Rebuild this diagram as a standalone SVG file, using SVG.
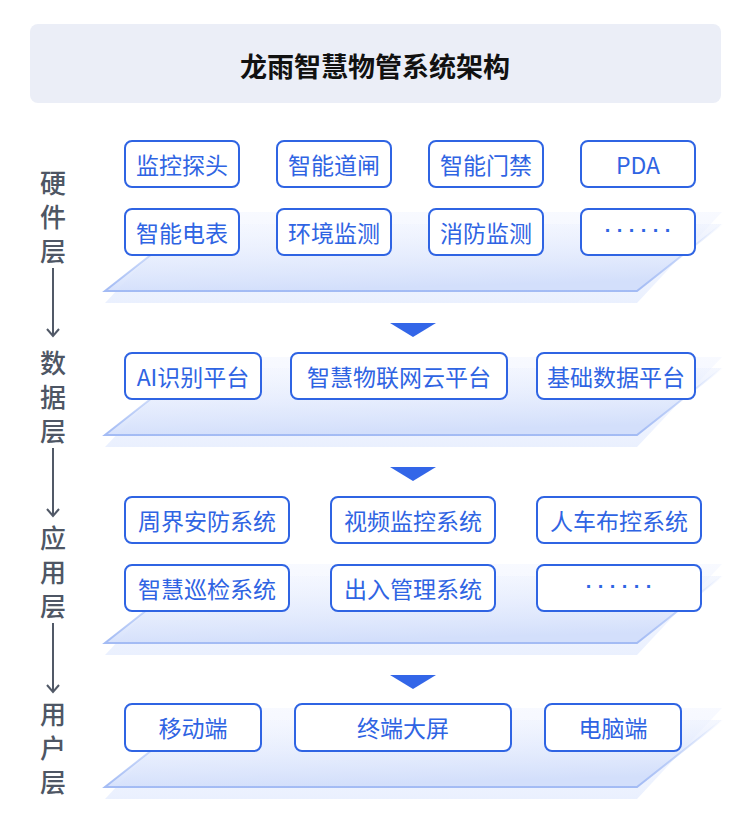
<svg xmlns="http://www.w3.org/2000/svg" width="750" height="826" viewBox="0 0 750 826">
<defs>
<linearGradient id="gFront" x1="0" y1="0" x2="0.25" y2="1">
<stop offset="0" stop-color="#F4F7FF" stop-opacity="0.4"/>
<stop offset="1" stop-color="#D3DFFB"/>
</linearGradient>
<linearGradient id="gBack" x1="0" y1="0" x2="0" y2="1">
<stop offset="0" stop-color="#F3F6FF" stop-opacity="0.6"/>
<stop offset="1" stop-color="#EAF0FE"/>
</linearGradient>
<linearGradient id="gStroke" x1="0" y1="0" x2="0" y2="1">
<stop offset="0" stop-color="#A6BEF5" stop-opacity="0"/>
<stop offset="0.55" stop-color="#A6BEF5" stop-opacity="0.6"/>
<stop offset="1" stop-color="#A3BBF4"/>
</linearGradient>
<marker id="arrowOpen" viewBox="0 0 12 14" refX="10" refY="7" markerWidth="12" markerHeight="14" markerUnits="userSpaceOnUse" orient="auto">
<path d="M3,1 L10,7 L3,13" fill="none" stroke="#515967" stroke-width="2"/>
</marker>
</defs>
<style>
.back{fill:url(#gBack);}
.front{fill:url(#gFront);stroke:url(#gStroke);stroke-width:2;}
.node rect{fill:#FFFFFF;stroke:#2F64E3;stroke-width:2;}
.node text{font-family:"Noto Sans CJK SC","Noto Sans",sans-serif;font-size:23px;fill:#2F64E3;text-anchor:middle;dominant-baseline:central;}
.node text.dots{font-family:"Liberation Sans",sans-serif;font-size:20px;font-weight:bold;}
.lab{font-family:"Noto Sans CJK SC",sans-serif;font-size:26px;font-weight:500;fill:#4E5664;text-anchor:middle;dominant-baseline:central;}
.tri{fill:#3366E8;}
.vline{stroke:#515967;stroke-width:2;fill:none;}
</style>
<rect width="750" height="826" fill="#FFFFFF"/>

<g id="title">
<rect x="30" y="24" width="691" height="79" rx="8" fill="#EBEEF7"/>
<text x="375" y="65" font-family="Noto Sans CJK SC,sans-serif" font-size="27" font-weight="bold" fill="#111111" text-anchor="middle" dominant-baseline="central">龙雨智慧物管系统架构</text>
</g>

<g id="plates">
<polygon class="back" points="190,212 722,212 637,303 105,303"/>
<polygon class="front" points="190,224 722,224 637,291 105,291"/>
<polygon class="back" points="190,357 722,357 637,447 105,447"/>
<polygon class="front" points="190,368 722,368 637,435 105,435"/>
<polygon class="back" points="190,564 722,564 637,655 105,655"/>
<polygon class="front" points="190,576 722,576 637,643 105,643"/>
<polygon class="back" points="190,708 722,708 637,799 105,799"/>
<polygon class="front" points="190,720 722,720 637,787 105,787"/>
</g>

<g id="layer-labels">
<text class="lab" x="53" y="181">硬<tspan x="53" dy="34">件</tspan><tspan x="53" dy="34">层</tspan></text>
<text class="lab" x="53" y="361">数<tspan x="53" dy="34">据</tspan><tspan x="53" dy="34">层</tspan></text>
<text class="lab" x="53" y="536">应<tspan x="53" dy="34">用</tspan><tspan x="53" dy="34">层</tspan></text>
<text class="lab" x="53" y="712">用<tspan x="53" dy="34">户</tspan><tspan x="53" dy="34">层</tspan></text>
</g>

<g id="connectors">
<line class="vline" x1="53" y1="268" x2="53" y2="336" marker-end="url(#arrowOpen)"/>
<line class="vline" x1="53" y1="448" x2="53" y2="516" marker-end="url(#arrowOpen)"/>
<line class="vline" x1="53" y1="623" x2="53" y2="692" marker-end="url(#arrowOpen)"/>
<polygon class="tri" points="390,323 436,323 413,337"/>
<polygon class="tri" points="390,467 436,467 413,481"/>
<polygon class="tri" points="390,675 436,675 413,689"/>
</g>

<g id="n-jkth" class="node"><rect x="125" y="141" width="114" height="46" rx="7"/><text x="182" y="164">监控探头</text></g>
<g id="n-zndz" class="node"><rect x="277" y="141" width="114" height="46" rx="7"/><text x="334" y="164">智能道闸</text></g>
<g id="n-znmj" class="node"><rect x="429" y="141" width="114" height="46" rx="7"/><text x="486" y="164">智能门禁</text></g>
<g id="n-pda" class="node"><rect x="581" y="141" width="114" height="46" rx="7"/><text x="638" y="164">PDA</text></g>
<g id="n-zndb" class="node"><rect x="125" y="209" width="114" height="46" rx="7"/><text x="182" y="232">智能电表</text></g>
<g id="n-hjjc" class="node"><rect x="277" y="209" width="114" height="46" rx="7"/><text x="334" y="232">环境监测</text></g>
<g id="n-xfjc" class="node"><rect x="429" y="209" width="114" height="46" rx="7"/><text x="486" y="232">消防监测</text></g>
<g id="n-more1" class="node"><rect x="581" y="209" width="114" height="46" rx="7"/><text class="dots" x="608 620 632 644 656 668" y="230">······</text></g>

<g id="n-ai" class="node"><rect x="125" y="353" width="136" height="46" rx="7"/><text x="193" y="376">AI识别平台</text></g>
<g id="n-iot" class="node"><rect x="291" y="353" width="216" height="46" rx="7"/><text x="399" y="376">智慧物联网云平台</text></g>
<g id="n-base" class="node"><rect x="537" y="353" width="158" height="46" rx="7"/><text x="616" y="376">基础数据平台</text></g>

<g id="n-zjaf" class="node"><rect x="125" y="497" width="164" height="46" rx="7"/><text x="207" y="520">周界安防系统</text></g>
<g id="n-spjk" class="node"><rect x="331" y="497" width="164" height="46" rx="7"/><text x="413" y="520">视频监控系统</text></g>
<g id="n-rcbk" class="node"><rect x="537" y="497" width="164" height="46" rx="7"/><text x="619" y="520">人车布控系统</text></g>
<g id="n-zhxj" class="node"><rect x="125" y="565" width="164" height="46" rx="7"/><text x="207" y="588">智慧巡检系统</text></g>
<g id="n-crgl" class="node"><rect x="331" y="565" width="164" height="46" rx="7"/><text x="413" y="588">出入管理系统</text></g>
<g id="n-more2" class="node"><rect x="537" y="565" width="164" height="46" rx="7"/><text class="dots" x="589 601 613 625 637 649" y="586">······</text></g>

<g id="n-ydd" class="node"><rect x="125" y="704" width="136" height="47" rx="7"/><text x="193" y="727">移动端</text></g>
<g id="n-zddp" class="node"><rect x="295" y="704" width="216" height="47" rx="7"/><text x="403" y="727">终端大屏</text></g>
<g id="n-dnd" class="node"><rect x="545" y="704" width="136" height="47" rx="7"/><text x="613" y="727">电脑端</text></g>
</svg>
